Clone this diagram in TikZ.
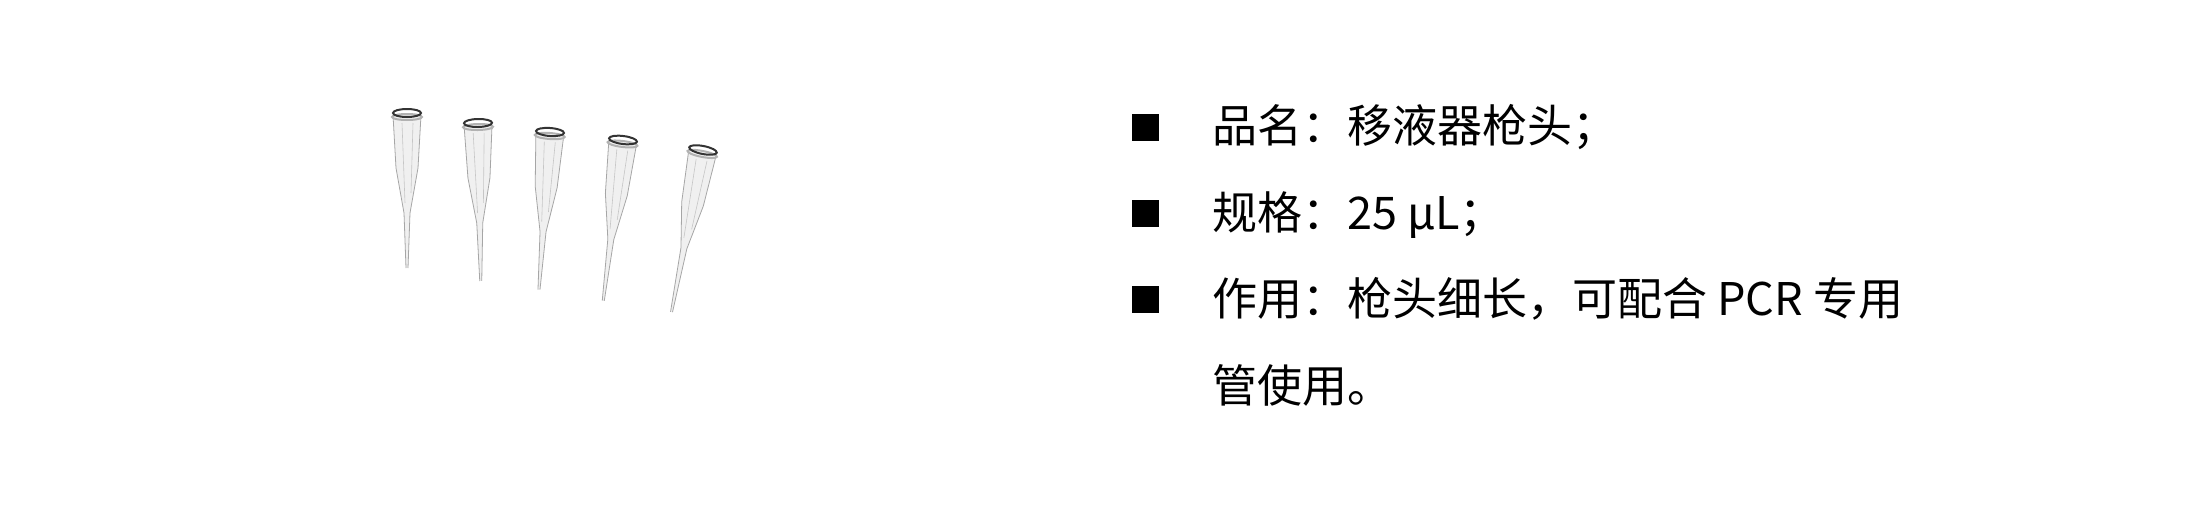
\documentclass[tikz,border=0pt]{standalone}
\usepackage{fontspec}
\setmainfont{Noto Sans CJK SC}
\begin{document}
\begin{tikzpicture}[x=1pt,y=-1pt,
  bullet/.style={fill=black,minimum size=27pt,inner sep=0pt},
  txt/.style={anchor=base west,inner sep=0pt,font=\fontsize{45}{54}\selectfont},
  tip/.pic={
    \fill[gray!12] (-14,2) -- (-11,55) -- (-3,100) -- (-1,#1) -- (1,#1) -- (3,100) -- (11,55) -- (14,2) -- cycle;
    \draw[gray!70,line width=0.8pt] (-14,2) -- (-11,55) -- (-3,100) -- (-1,#1);
    \draw[gray!70,line width=0.8pt] (14,2) -- (11,55) -- (3,100) -- (1,#1);
    \draw[gray!45,line width=0.6pt] (-5,10) -- (-2,90) (6,10) -- (4,80);
    \draw[gray!60,line width=2pt] (0,4) ellipse (15 and 3);
    \draw[black!80,line width=2pt] (0,0) ellipse (14 and 4);
  }]
\useasboundingbox (0,0) rectangle (2200,504);
\pic at (407,113) {tip=155};
\pic[rotate=1] at (478,123) {tip=158};
\pic[rotate=-4] at (550,132) {tip=158};
\pic[rotate=-7] at (623,140) {tip=162};
\pic[rotate=-11] at (703,150) {tip=165};
\node[bullet] (b1) at (1145,127) {};
\node[bullet] (b2) at (1145,213) {};
\node[bullet] (b3) at (1145,299) {};
\node[txt] (t1) at (1212,142) {品名：移液器枪头；};
\node[txt] (t2) at (1212,229) {规格：25 μL；};
\node[txt] (t3) at (1212,315) {作用：枪头细长，可配合 PCR 专用};
\node[txt] (t4) at (1212,402) {管使用。};
\end{tikzpicture}
\end{document}
